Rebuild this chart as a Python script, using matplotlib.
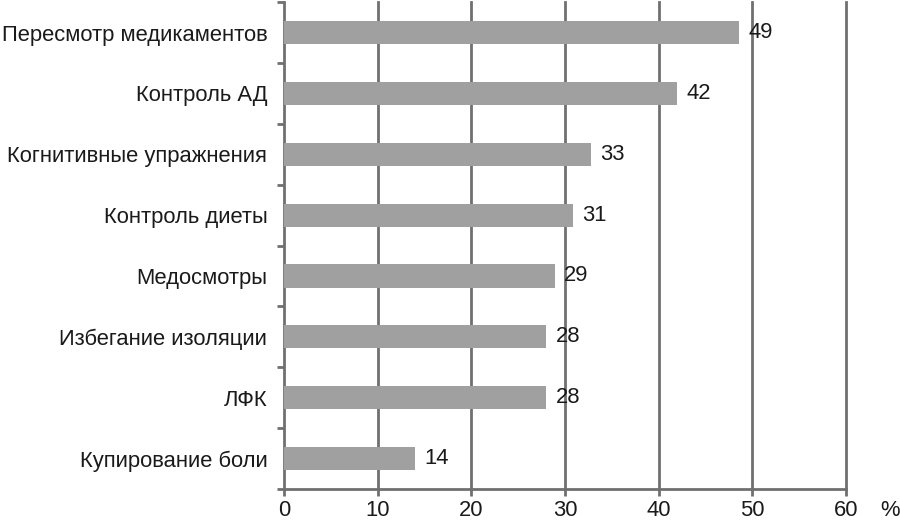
import matplotlib.pyplot as plt
import numpy as np

categories = ["Пересмотр медикаментов", "Контроль АД", "Когнитивные упражнения",
              "Контроль диеты", "Медосмотры", "Избегание изоляции", "ЛФК",
              "Купирование боли"]
values = [48.6, 42.0, 32.8, 30.8, 28.9, 28.0, 28.0, 14.0]
labels = ["49", "42", "33", "31", "29", "28", "28", "14"]
x_ticks = [0, 10, 20, 30, 40, 50, 60]

plt.rcParams['font.family'] = ['Liberation Sans', 'DejaVu Sans']
fs = 15.8

fig = plt.figure(figsize=(9, 5.2), dpi=100)
ax = fig.add_axes([0.3156, 0.0596, 0.9400 - 0.3156, 0.9960 - 0.0596])

grid_c = "#707070"
y = np.arange(len(categories))
ax.barh(y, values, height=0.38, color="#a0a0a0", zorder=3)
for yi, v, lab in zip(y, values, labels):
    ax.text(v + 1.0, yi, lab, va="center", ha="left", fontsize=fs, color="#1a1a1a")

ax.set_ylim(len(categories) - 0.5, -0.5)
ax.set_xlim(0, 60)
ax.set_xticks(x_ticks)
ax.set_xticklabels([str(t) for t in x_ticks], fontsize=fs, color="#1a1a1a")
ax.tick_params(axis="x", length=5, width=2, color=grid_c, pad=3)

ax.set_yticks(y)
ax.set_yticklabels(categories, fontsize=fs, color="#1a1a1a")
ax.tick_params(axis="y", which="major", length=0, pad=12)
ax.set_yticks(np.arange(len(categories) + 1) - 0.5, minor=True)
ax.tick_params(axis="y", which="minor", length=5, width=2, color=grid_c)

for t in x_ticks[1:]:
    ax.axvline(t, color=grid_c, lw=2, zorder=1, clip_on=False)

for s in ["top", "right"]:
    ax.spines[s].set_visible(False)
for s in ["left", "bottom"]:
    ax.spines[s].set_color(grid_c)
    ax.spines[s].set_linewidth(2)

fig.text(890 / 900, 1 - 510 / 520, "%", fontsize=fs, ha="center", va="center", color="#1a1a1a")

fig.savefig("out.png", dpi=100)
